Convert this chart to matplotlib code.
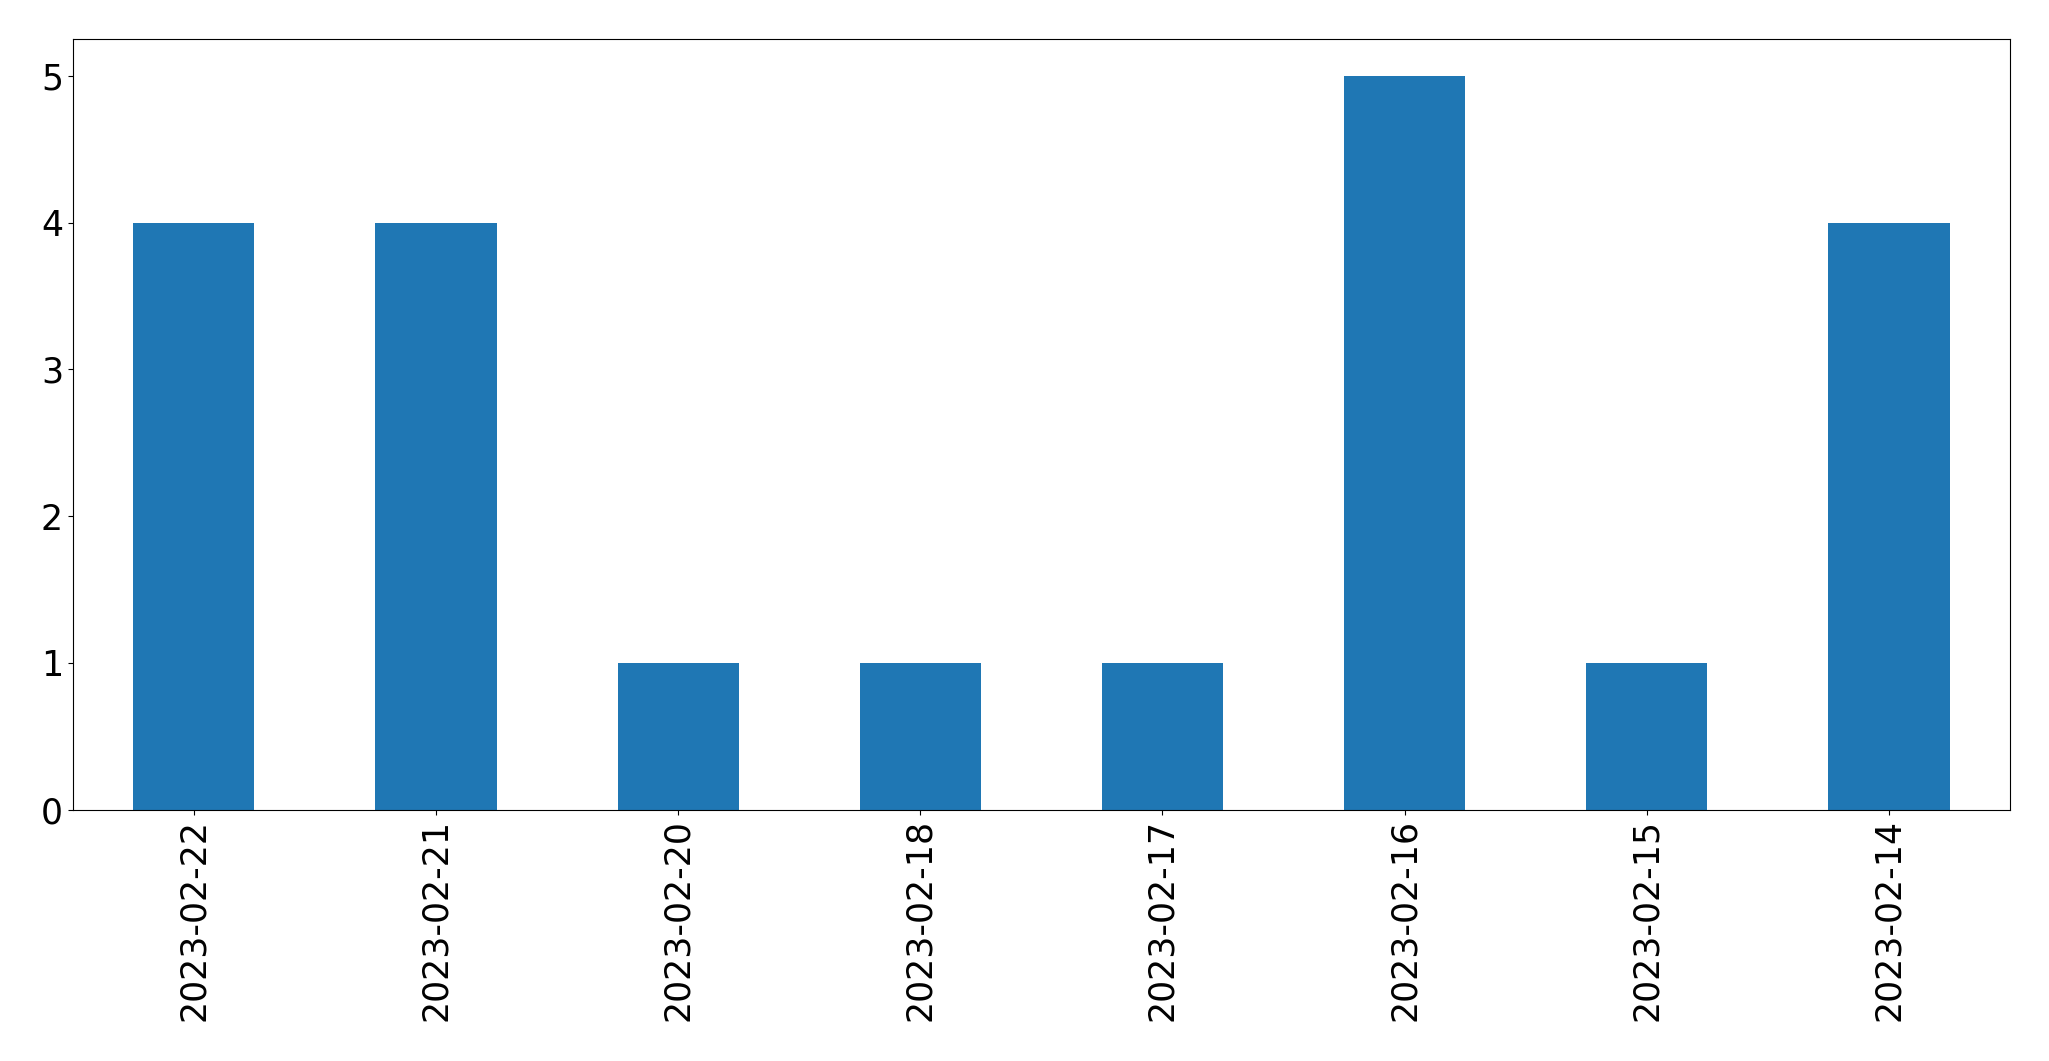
import matplotlib
matplotlib.use("Agg")
import matplotlib.pyplot as plt
import pandas as pd

dates = ['2023-02-22', '2023-02-21', '2023-02-20', '2023-02-18',
         '2023-02-17', '2023-02-16', '2023-02-15', '2023-02-14']
counts = [4, 4, 1, 1, 1, 5, 1, 4]

s = pd.Series(counts, index=dates)

fig, ax = plt.subplots(figsize=(20.49, 10.61), dpi=100)
s.plot(kind='bar', ax=ax, color='#1f77b4', fontsize=25)
ax.set_xlabel('')
fig.subplots_adjust(left=0.0355, right=0.981, top=0.963, bottom=0.237)
fig.savefig('out.png', dpi=100)
